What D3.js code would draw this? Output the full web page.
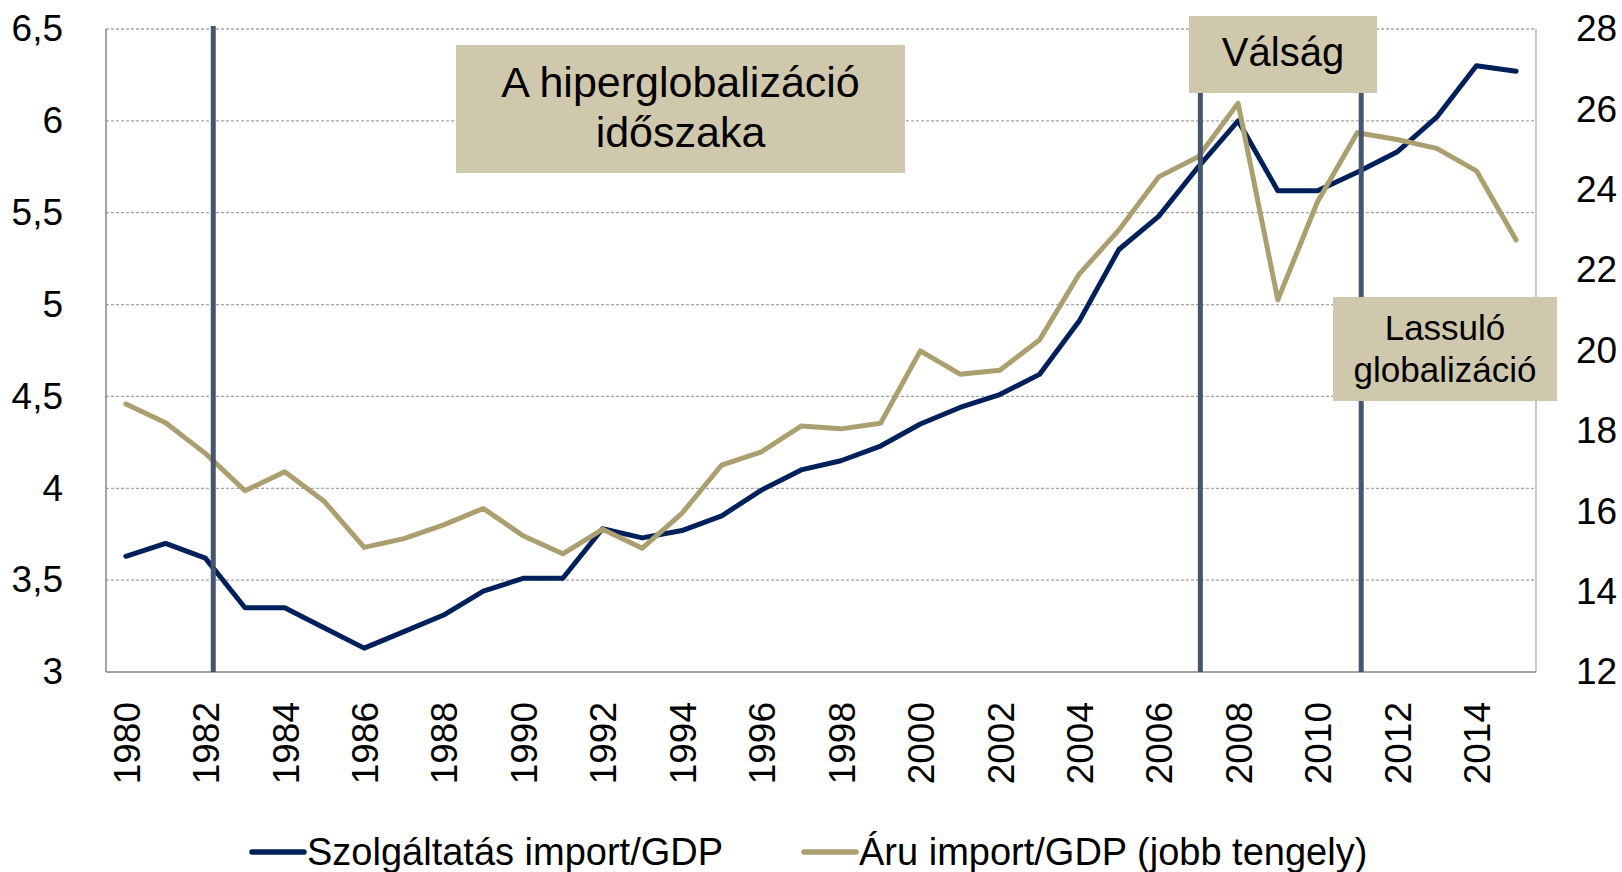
<!DOCTYPE html>
<html>
<head>
<meta charset="utf-8">
<script src="https://cdn.jsdelivr.net/npm/d3@7"></script>
<style>
  html, body { margin: 0; padding: 0; background: #fff; }
  svg { display: block; font-family: "Liberation Sans", Arial, sans-serif; }
</style>
</head>
<body>
<div id="chart"></div>
<script>
const years = d3.range(1980, 2016);

// Szolgáltatás import/GDP (bal tengely)
const services = [3.63, 3.70, 3.62, 3.35, 3.35, 3.24, 3.13, 3.22, 3.31, 3.44,
                  3.51, 3.51, 3.78, 3.73, 3.77, 3.85, 3.99, 4.10, 4.15, 4.23,
                  4.35, 4.44, 4.51, 4.62, 4.91, 5.30, 5.48, 5.75, 6.00, 5.62,
                  5.62, 5.72, 5.83, 6.02, 6.30, 6.27];

// Áru import/GDP (jobb tengely)
const goods = [18.67, 18.20, 17.44, 16.51, 16.98, 16.24, 15.10, 15.32, 15.66, 16.07,
               15.39, 14.94, 15.55, 15.08, 15.95, 17.15, 17.48, 18.12, 18.05, 18.19,
               19.99, 19.41, 19.51, 20.26, 21.90, 23.00, 24.32, 24.82, 26.15, 21.26,
               23.70, 25.42, 25.25, 25.03, 24.47, 22.75];

const leftTicks = [3, 3.5, 4, 4.5, 5, 5.5, 6, 6.5];
const rightTicks = [12, 14, 16, 18, 20, 22, 24, 26, 28];
const yearLabels = d3.range(1980, 2016, 2);
const markerYears = [1982.2, 2007.05, 2011.1];

const seriesNames = ['Szolgáltatás import/GDP', 'Áru import/GDP (jobb tengely)'];
const colors = ['#00205b', '#ab9f70'];

const notes = [
  {lines: ['A hiperglobalizáció', 'időszaka']},
  {lines: ['Válság']},
  {lines: ['Lassuló', 'globalizáció']}
];

const W = 1622, H = 872;
const margin = {top: 29, right: 86, bottom: 200, left: 106};
const width = W - margin.left - margin.right;
const height = H - margin.top - margin.bottom;

const svg = d3.select('#chart').append('svg')
    .attr('width', W)
    .attr('height', H);

const g = svg.append('g').attr('transform', 'translate(' + margin.left + ',' + margin.top + ')');

const x = d3.scalePoint().domain(years).range([0, width]).padding(0.5);
const xYear = d3.scaleLinear().domain([1980, 2015]).range([x(1980), x(2015)]);
const yL = d3.scaleLinear().domain([3, 6.5]).range([height, 0]);
const yR = d3.scaleLinear().domain([12, 28]).range([height, 0]);

// gridlines
g.append('g')
    .selectAll('line')
    .data(leftTicks.slice(1))
    .join('line')
    .attr('x1', 0).attr('x2', width)
    .attr('y1', d => yL(d)).attr('y2', d => yL(d))
    .attr('stroke', '#a6a6a6')
    .attr('stroke-width', 1.3)
    .attr('stroke-dasharray', '3,2');

// frame lines
g.append('line').attr('x1', 0).attr('x2', 0).attr('y1', 0).attr('y2', height)
    .attr('stroke', '#868686').attr('stroke-width', 1.5);
g.append('line').attr('x1', width).attr('x2', width).attr('y1', 0).attr('y2', height)
    .attr('stroke', '#a6a6a6').attr('stroke-width', 1.2);
g.append('line').attr('x1', 0).attr('x2', width).attr('y1', height).attr('y2', height)
    .attr('stroke', '#868686').attr('stroke-width', 1.5);

// axes labels
const leftAxis = g.append('g')
    .call(d3.axisLeft(yL).tickValues(leftTicks).tickSize(0).tickPadding(43)
        .tickFormat(d => d3.format('')(d).replace('.', ',')));
leftAxis.select('.domain').remove();
leftAxis.selectAll('text').attr('font-size', 37).attr('fill', '#000')
    .attr('font-family', '"Liberation Sans", Arial, sans-serif');

const rightAxis = g.append('g')
    .attr('transform', 'translate(' + width + ',0)')
    .call(d3.axisRight(yR).tickValues(rightTicks).tickSize(0).tickPadding(40));
rightAxis.select('.domain').remove();
rightAxis.selectAll('text').attr('font-size', 37).attr('fill', '#000')
    .attr('font-family', '"Liberation Sans", Arial, sans-serif');

const bottomAxis = g.append('g')
    .attr('transform', 'translate(0,' + height + ')')
    .call(d3.axisBottom(x).tickValues(yearLabels).tickSize(0));
bottomAxis.select('.domain').remove();
bottomAxis.selectAll('text')
    .attr('font-size', 37).attr('fill', '#000')
    .attr('font-family', '"Liberation Sans", Arial, sans-serif')
    .attr('transform', 'rotate(-90)')
    .attr('text-anchor', 'end')
    .attr('x', -30)
    .attr('y', 0)
    .attr('dy', '0.36em');

// series
const lineL = d3.line().x((d, i) => x(years[i])).y(d => yL(d));
const lineR = d3.line().x((d, i) => x(years[i])).y(d => yR(d));

g.append('path')
    .datum(services)
    .attr('fill', 'none')
    .attr('stroke', colors[0])
    .attr('stroke-width', 5)
    .attr('stroke-linejoin', 'round')
    .attr('stroke-linecap', 'round')
    .attr('d', lineL);

g.append('path')
    .datum(goods)
    .attr('fill', 'none')
    .attr('stroke', colors[1])
    .attr('stroke-width', 5)
    .attr('stroke-linejoin', 'round')
    .attr('stroke-linecap', 'round')
    .attr('d', lineR);

// period markers
g.append('g')
    .selectAll('line')
    .data(markerYears)
    .join('line')
    .attr('x1', d => xYear(d)).attr('x2', d => xYear(d))
    .attr('y1', -3).attr('y2', height)
    .attr('stroke', '#47566f')
    .attr('stroke-width', 5);

// annotation boxes
const boxes = [
  {x: 456, y: 45, w: 449, h: 128, size: 43, base: [97, 147]},
  {x: 1189, y: 16, w: 188, h: 77, size: 40, base: [66]},
  {x: 1333, y: 297, w: 224, h: 104, size: 35, base: [340, 382]}
];
boxes.forEach((b, i) => {
  svg.append('rect')
      .attr('x', b.x).attr('y', b.y).attr('width', b.w).attr('height', b.h)
      .attr('fill', '#cfc8ac');
  svg.append('text')
      .attr('font-size', b.size)
      .attr('fill', '#000')
      .attr('text-anchor', 'middle')
      .selectAll('tspan')
      .data(notes[i].lines)
      .join('tspan')
      .attr('x', b.x + b.w / 2)
      .attr('y', (d, j) => b.base[j])
      .text(d => d);
});

// legend
const legend = svg.append('g').attr('transform', 'translate(0,852)');
const legX = [252, 804];
seriesNames.forEach((name, i) => {
  legend.append('line')
      .attr('x1', legX[i]).attr('x2', legX[i] + 52)
      .attr('y1', 0).attr('y2', 0)
      .attr('stroke', colors[i])
      .attr('stroke-width', 5.5)
      .attr('stroke-linecap', 'round');
  legend.append('text')
      .attr('x', legX[i] + 55)
      .attr('y', 0)
      .attr('dy', '0.35em')
      .attr('font-size', 38)
      .attr('fill', '#000')
      .text(name);
});
</script>
</body>
</html>
